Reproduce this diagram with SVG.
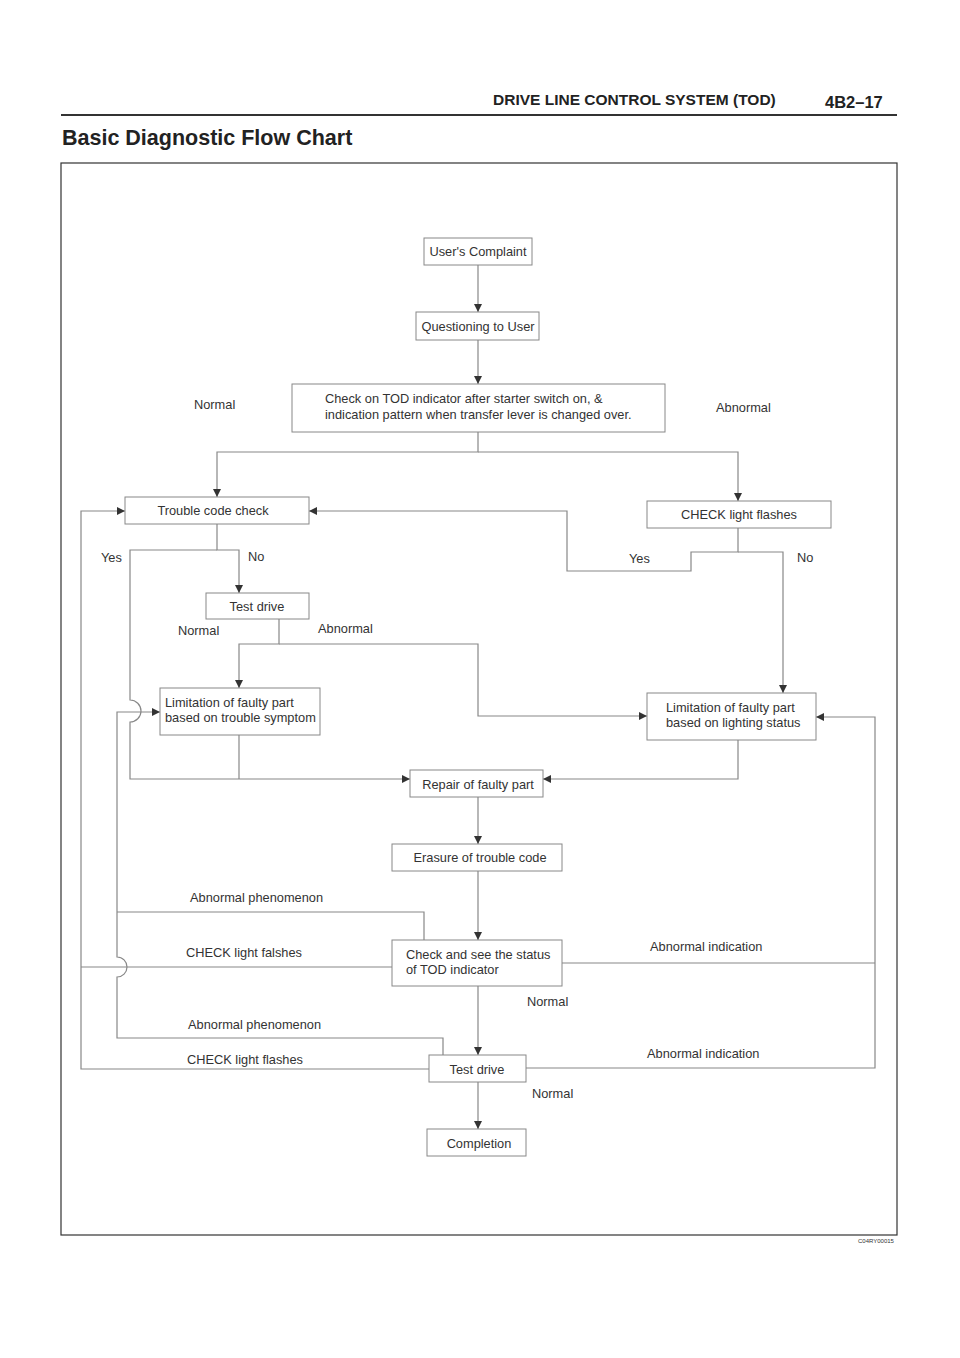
<svg xmlns="http://www.w3.org/2000/svg" width="960" height="1358" viewBox="0 0 960 1358">
<style>
text{font-family:"Liberation Sans",Arial,sans-serif;fill:#333}
.h{font-weight:bold;fill:#222}
.n rect{fill:#fff;stroke:#888;stroke-width:1}
.n text{font-size:12.8px}
.l{font-size:12.8px}
#c path{fill:none;stroke:#888;stroke-width:1.2}
</style>
<defs><marker id="a" viewBox="0 0 10 10" refX="10" refY="5" markerWidth="10" markerHeight="8" markerUnits="userSpaceOnUse" orient="auto"><path d="M0,0L10,5L0,10z" fill="#333"/></marker></defs>
<rect width="960" height="1358" fill="#fff"/>
<text x="493" y="105" class="h" font-size="15.5">DRIVE LINE CONTROL SYSTEM (TOD)</text>
<text x="825" y="108" class="h" font-size="16.5">4B2–17</text>
<line x1="61" y1="115" x2="897" y2="115" stroke="#333" stroke-width="2"/>
<text x="62" y="145" class="h" font-size="21.5">Basic Diagnostic Flow Chart</text>
<rect x="61" y="163" width="836" height="1072" fill="none" stroke="#333" stroke-width="1.2"/>
<text x="858" y="1243" font-size="6">C04RY00015</text>
<g id="c">
<path d="M478,265V312" marker-end="url(#a)"/>
<path d="M478,340V384" marker-end="url(#a)"/>
<path d="M478,432V452H217V497" marker-end="url(#a)"/>
<path d="M478,452H738V501" marker-end="url(#a)"/>
<path d="M217,524V550H239V593" marker-end="url(#a)"/>
<path d="M217,550H130V700A11,11 0 0 1 130,722V779H410" marker-end="url(#a)"/>
<path d="M738,528V552H691V571H567V511H309" marker-end="url(#a)"/>
<path d="M738,552H783V693" marker-end="url(#a)"/>
<path d="M279,619V644H239V688" marker-end="url(#a)"/>
<path d="M279,644H478V716H647" marker-end="url(#a)"/>
<path d="M239,735V779"/>
<path d="M738,740V779H543" marker-end="url(#a)"/>
<path d="M478,797V844" marker-end="url(#a)"/>
<path d="M478,871V940" marker-end="url(#a)"/>
<path d="M478,986V1055" marker-end="url(#a)"/>
<path d="M478,1082V1129" marker-end="url(#a)"/>
<path d="M424,940V912H117"/>
<path d="M443,1055V1038H117V977A10,10 0 0 0 117,957V712H160" marker-end="url(#a)"/>
<path d="M392,967H81"/>
<path d="M429,1069H81V511H125" marker-end="url(#a)"/>
<path d="M562,963H875"/>
<path d="M526,1068H875V717H816" marker-end="url(#a)"/>
</g>
<g id="n1" class="n"><rect x="424" y="238" width="108" height="27"/><text x="478" y="256" text-anchor="middle">User's Complaint</text></g>
<g id="n2" class="n"><rect x="416" y="312" width="123" height="28"/><text x="478" y="331" text-anchor="middle">Questioning to User</text></g>
<g id="n3" class="n"><rect x="292" y="384" width="373" height="48"/><text x="325" y="403">Check on TOD indicator after starter switch on, &amp;</text><text x="325" y="419">indication pattern when transfer lever is changed over.</text></g>
<g id="n4" class="n"><rect x="125" y="497" width="184" height="27"/><text x="213" y="515" text-anchor="middle">Trouble code check</text></g>
<g id="n5" class="n"><rect x="647" y="501" width="184" height="27"/><text x="739" y="519" text-anchor="middle">CHECK light flashes</text></g>
<g id="n6" class="n"><rect x="206" y="593" width="103" height="26"/><text x="257" y="611" text-anchor="middle">Test drive</text></g>
<g id="n7" class="n"><rect x="160" y="688" width="160" height="47"/><text x="165" y="707">Limitation of faulty part</text><text x="165" y="722">based on trouble symptom</text></g>
<g id="n8" class="n"><rect x="647" y="693" width="169" height="47"/><text x="666" y="712">Limitation of faulty part</text><text x="666" y="727">based on lighting status</text></g>
<g id="n9" class="n"><rect x="410" y="770" width="133" height="27"/><text x="478" y="789" text-anchor="middle">Repair of faulty part</text></g>
<g id="n10" class="n"><rect x="392" y="844" width="170" height="27"/><text x="480" y="862" text-anchor="middle">Erasure of trouble code</text></g>
<g id="n11" class="n"><rect x="392" y="940" width="170" height="46"/><text x="406" y="959">Check and see the status</text><text x="406" y="974">of TOD indicator</text></g>
<g id="n12" class="n"><rect x="429" y="1055" width="97" height="27"/><text x="477" y="1074" text-anchor="middle">Test drive</text></g>
<g id="n13" class="n"><rect x="427" y="1129" width="99" height="27"/><text x="479" y="1148" text-anchor="middle">Completion</text></g>
<g class="l">
<text x="194" y="409">Normal</text><text x="716" y="412">Abnormal</text>
<text x="101" y="562">Yes</text><text x="248" y="561">No</text>
<text x="629" y="563">Yes</text><text x="797" y="562">No</text>
<text x="178" y="635">Normal</text><text x="318" y="633">Abnormal</text>
<text x="190" y="902">Abnormal phenomenon</text>
<text x="186" y="957">CHECK light falshes</text>
<text x="650" y="951">Abnormal indication</text>
<text x="527" y="1006">Normal</text>
<text x="188" y="1029">Abnormal phenomenon</text>
<text x="187" y="1064">CHECK light flashes</text>
<text x="647" y="1058">Abnormal indication</text>
<text x="532" y="1098">Normal</text>
</g>
</svg>
